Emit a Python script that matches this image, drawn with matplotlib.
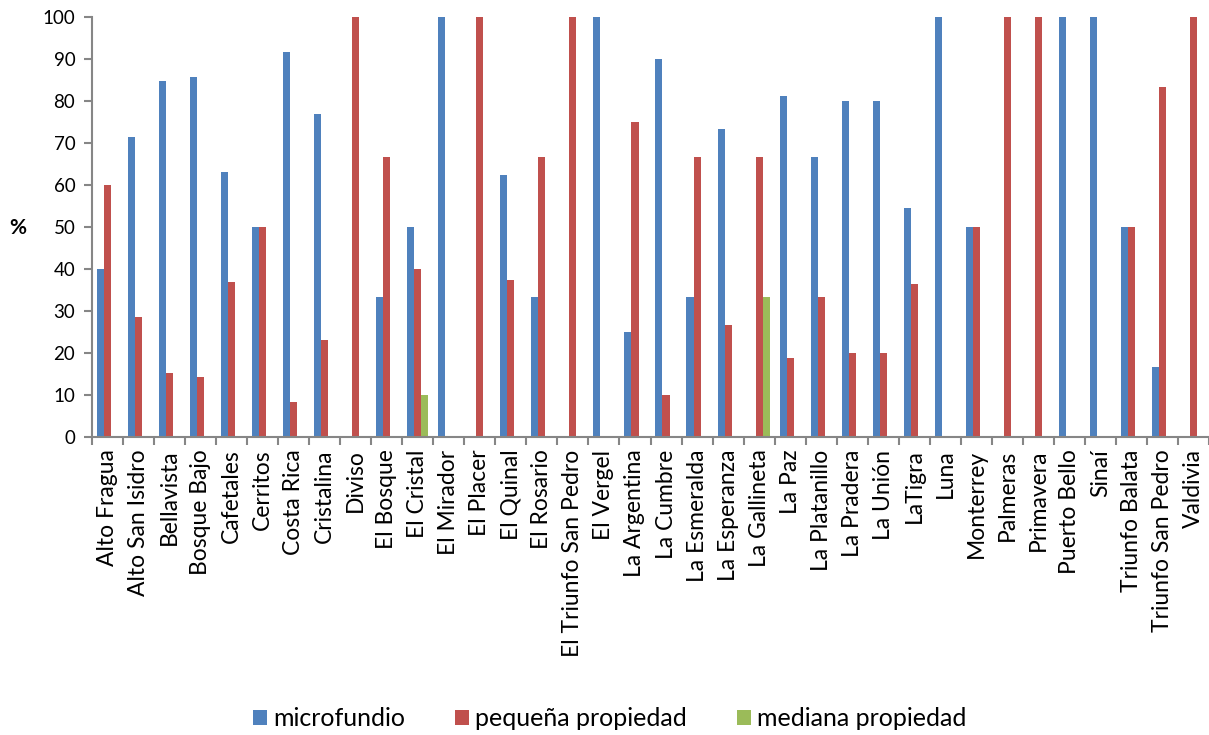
import matplotlib
matplotlib.use("Agg")
import matplotlib.pyplot as plt
import numpy as np

categories = [
    "Alto Fragua", "Alto San Isidro", "Bellavista", "Bosque Bajo", "Cafetales",
    "Cerritos", "Costa Rica", "Cristalina", "Diviso", "El Bosque", "El Cristal",
    "El Mirador", "El Placer", "El Quinal", "El Rosario", "El Triunfo San Pedro",
    "El Vergel", "La Argentina", "La Cumbre", "La Esmeralda", "La Esperanza",
    "La Gallineta", "La Paz", "La Platanillo", "La Pradera", "La Unión",
    "LaTigra", "Luna", "Monterrey", "Palmeras", "Primavera", "Puerto Bello",
    "Sinaí", "Triunfo Balata", "Triunfo San Pedro", "Valdivia",
]

microfundio = [40, 71.4, 84.8, 85.7, 63.2, 50, 91.7, 76.9, 0, 33.3, 50,
               100, 0, 62.5, 33.3, 0, 100, 25, 90, 33.3, 73.3, 0, 81.25,
               66.7, 80, 80, 54.5, 100, 50, 0, 0, 100, 100, 50, 16.7, 0]
pequena = [60, 28.6, 15.2, 14.3, 36.8, 50, 8.3, 23.1, 100, 66.7, 40,
           0, 100, 37.5, 66.7, 100, 0, 75, 10, 66.7, 26.7, 66.7, 18.75,
           33.3, 20, 20, 36.4, 0, 50, 100, 100, 0, 0, 50, 83.3, 100]
mediana = [0, 0, 0, 0, 0, 0, 0, 0, 0, 0, 10,
           0, 0, 0, 0, 0, 0, 0, 0, 0, 0, 33.3, 0,
           0, 0, 0, 0, 0, 0, 0, 0, 0, 0, 0, 0, 0]

series_names = ["microfundio", "pequeña propiedad", "mediana propiedad"]
colors = ["#4F81BD", "#C0504D", "#9BBB59"]

plt.rcParams["font.family"] = ["Lato", "DejaVu Sans"]

fig = plt.figure(figsize=(12.09, 7.35), dpi=100)
ax = fig.add_axes([92 / 1209, 1 - 437 / 735, 1117 / 1209, 420 / 735])

x = np.arange(len(categories)) + 0.5
w = 0.227
for i, (vals, name, c) in enumerate(zip([microfundio, pequena, mediana], series_names, colors)):
    ax.bar(x + (i - 1) * w, vals, width=w, color=c, label=name, linewidth=0)

ax.set_xlim(0, len(categories))
ax.set_ylim(0, 100)
ax.set_yticks(np.arange(0, 101, 10))
ax.set_xticks(x)
ax.set_xticklabels(categories, rotation=90, fontsize=16.5)
ax.xaxis.set_minor_locator(matplotlib.ticker.FixedLocator(np.arange(0, len(categories) + 1)))
ax.tick_params(axis="x", which="major", length=0, pad=9)
ax.tick_params(axis="x", which="minor", length=6, width=1.5, color="#868686")
ax.tick_params(axis="y", length=6, width=1.5, color="#868686", labelsize=13.5, pad=6)

for s in ["top", "right"]:
    ax.spines[s].set_visible(False)
for s in ["left", "bottom"]:
    ax.spines[s].set_color("#868686")
    ax.spines[s].set_linewidth(1.5)

fig.text(18 / 1209, 1 - 228 / 735, "%", fontsize=15, fontweight="bold",
         ha="center", va="center")

fig.legend(loc="center", bbox_to_anchor=(610 / 1209, 1 - 719 / 735), ncol=3,
           frameon=False, fontsize=18, handlelength=0.55, handleheight=0.55,
           handletextpad=0.25, columnspacing=2.0)

fig.savefig("out.png", dpi=100)
